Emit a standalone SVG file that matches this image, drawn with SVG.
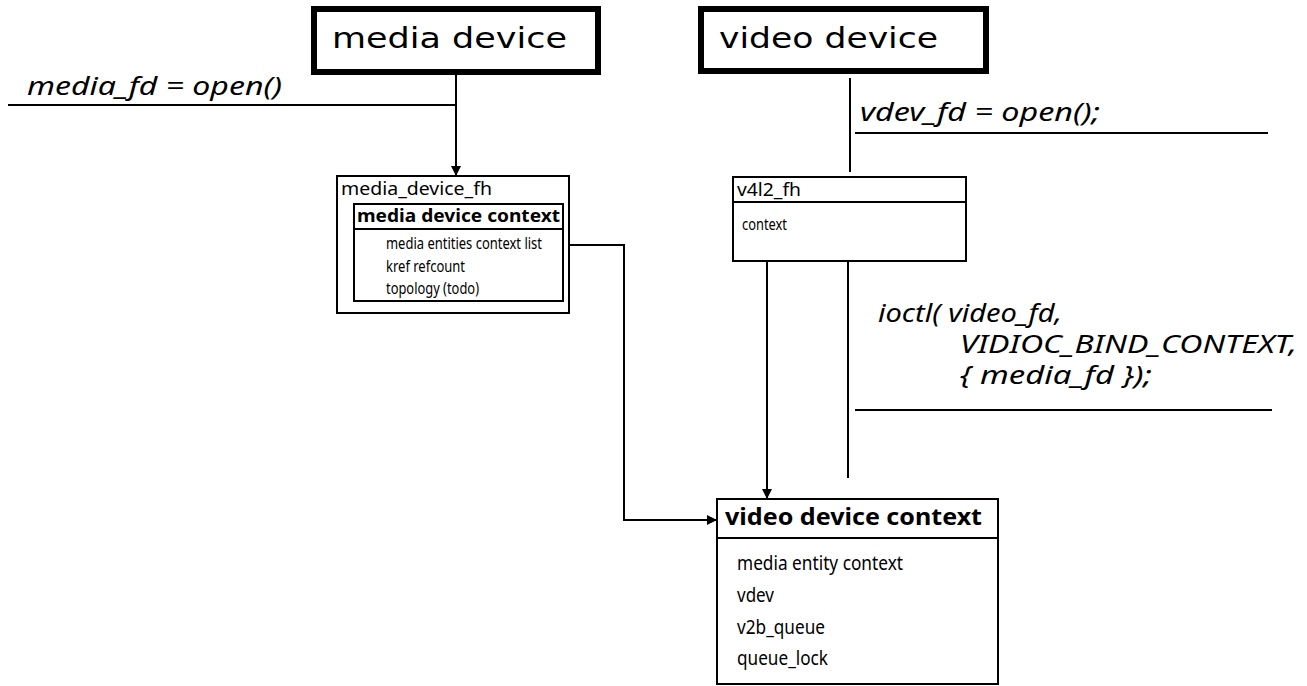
<svg xmlns="http://www.w3.org/2000/svg" width="1307" height="686" viewBox="0 0 1307 686">
<defs>
<marker id="arr" markerWidth="10" markerHeight="10" refX="9" refY="5" orient="auto" markerUnits="userSpaceOnUse">
<path d="M0,0 L10,5 L0,10 z" fill="#000"/>
</marker>
<style>
.dev{fill:#fff;stroke:#000;stroke-width:6}
.box{fill:#fff;stroke:#000;stroke-width:2}
.ln{fill:none;stroke:#000;stroke-width:2}
.big{font-family:"DejaVu Sans",sans-serif;font-size:29px;fill:#000}
.it{font-family:"Noto Sans","Open Sans",sans-serif;font-style:italic;font-size:25px;fill:#000}
.hd{font-family:"Noto Sans","Open Sans",sans-serif;font-size:18px;fill:#000}
.bd{font-family:"Noto Sans","Open Sans",sans-serif;font-weight:bold;fill:#000}
.cd{font-family:"Noto Sans","Open Sans",sans-serif;fill:#000}
</style>
</defs>
<rect width="1307" height="686" fill="#fff"/>
<g id="connectors">
<path class="ln" d="M8,105 H456"/>
<path class="ln" d="M456,73 V175" marker-end="url(#arr)"/>
<path class="ln" d="M850,78 V172"/>
<path class="ln" d="M855,133 H1268"/>
<path class="ln" d="M767,243 V498" marker-end="url(#arr)"/>
<path class="ln" d="M848,262 V478"/>
<path class="ln" d="M855,410 H1272"/>
<path class="ln" d="M552,245 H624 V520 H716" marker-end="url(#arr)"/>
</g>
<g id="media_device">
<rect class="dev" x="314" y="9" width="284" height="63"/>
<text class="big" x="332" y="48" textLength="235" lengthAdjust="spacingAndGlyphs">media device</text>
</g>
<g id="video_device">
<rect class="dev" x="701" y="9" width="285" height="62"/>
<text class="big" x="719" y="48" textLength="219" lengthAdjust="spacingAndGlyphs">video device</text>
</g>
<g id="label_media_open">
<text class="it" x="27" y="95" textLength="255" lengthAdjust="spacingAndGlyphs">media_fd = open()</text>
</g>
<g id="label_vdev_open">
<text class="it" x="860" y="121" textLength="240" lengthAdjust="spacingAndGlyphs">vdev_fd = open();</text>
</g>
<g id="label_ioctl">
<text class="it"><tspan x="878" y="322" textLength="184" lengthAdjust="spacingAndGlyphs">ioctl( video_fd,</tspan><tspan x="960" y="353" textLength="337" lengthAdjust="spacingAndGlyphs">VIDIOC_BIND_CONTEXT,</tspan><tspan x="960" y="384" textLength="192" lengthAdjust="spacingAndGlyphs">{ media_fd });</tspan></text>
</g>
<g id="media_device_fh">
<rect class="box" x="337" y="176" width="232" height="137"/>
<text class="hd" x="341" y="195" textLength="151" lengthAdjust="spacingAndGlyphs">media_device_fh</text>
<rect class="box" x="354" y="204" width="209" height="97"/>
<path class="ln" d="M354,229 H563"/>
<text class="bd" x="357" y="222" font-size="17" textLength="203" lengthAdjust="spacingAndGlyphs">media device context</text>
<text class="cd" x="386" y="249" font-size="16" textLength="156" lengthAdjust="spacingAndGlyphs">media entities context list</text>
<text class="cd" x="386" y="272" font-size="16" textLength="79" lengthAdjust="spacingAndGlyphs">kref refcount</text>
<text class="cd" x="386" y="294" font-size="16" textLength="93" lengthAdjust="spacingAndGlyphs">topology (todo)</text>
</g>
<g id="v4l2_fh">
<rect class="box" x="733" y="177" width="233" height="84"/>
<path class="ln" d="M733,202 H966"/>
<text class="hd" x="737" y="196" textLength="64" lengthAdjust="spacingAndGlyphs">v4l2_fh</text>
<text class="cd" x="742" y="230" font-size="16" textLength="45" lengthAdjust="spacingAndGlyphs">context</text>
</g>
<g id="video_device_context">
<rect class="box" x="717" y="499" width="281" height="185"/>
<path class="ln" d="M717,538 H998"/>
<text class="bd" x="725" y="525" font-size="23" textLength="257" lengthAdjust="spacingAndGlyphs">video device context</text>
<text class="cd" x="737" y="570" font-size="20" textLength="166" lengthAdjust="spacingAndGlyphs">media entity context</text>
<text class="cd" x="737" y="602" font-size="20" textLength="37" lengthAdjust="spacingAndGlyphs">vdev</text>
<text class="cd" x="737" y="634" font-size="20" textLength="88" lengthAdjust="spacingAndGlyphs">v2b_queue</text>
<text class="cd" x="737" y="665" font-size="20" textLength="91" lengthAdjust="spacingAndGlyphs">queue_lock</text>
</g>
</svg>
